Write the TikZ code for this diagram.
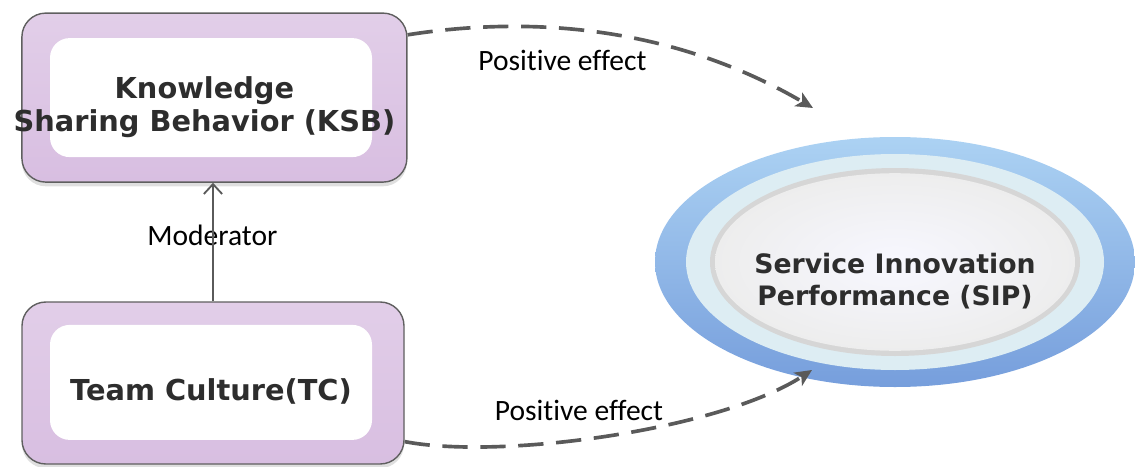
\documentclass[tikz,border=0pt]{standalone}
\usepackage{fontspec}
\setmainfont{Carlito}[Ligatures=NoCommon]
\newfontfamily\boxfont{DejaVu Sans}
\usetikzlibrary{arrows.meta,shadows,shapes.geometric}

\definecolor{boxlilac}{RGB}{216,190,225}
\definecolor{boxline}{RGB}{95,95,95}
\definecolor{sipblue}{RGB}{118,158,220}
\definecolor{sipbluelight}{RGB}{172,210,243}
\definecolor{sipring}{RGB}{221,237,243}
\definecolor{sipgray}{RGB}{214,214,214}
\definecolor{arrowgray}{RGB}{90,90,90}
\definecolor{textgray}{RGB}{45,45,45}

\tikzset{
    outerbox/.style={draw=boxline, line width=1pt, rounded corners=17pt,
        top color=boxlilac!75!white, bottom color=boxlilac, inner sep=0pt,
        drop shadow={shadow xshift=0pt, shadow yshift=-3pt, opacity=0.25}},
    innerbox/.style={fill=white, draw=none, rounded corners=14pt,
        minimum width=8.05cm, inner sep=0pt},
    boxtext/.style={font=\boxfont\bfseries\fontsize{20.5}{23.5}\selectfont,
        text=textgray, align=center},
    lbl/.style={font=\fontsize{21}{25}\selectfont, text=black},
    effect/.style={arrowgray, line width=2.6pt, dash pattern=on 18pt off 9pt,
        -{Stealth[length=12pt,width=11pt,inset=3pt]}},
    modarrow/.style={arrowgray, line width=1.3pt,
        -{Straight Barb[length=7pt,width=13pt]}}
}

\begin{document}
\begin{tikzpicture}
    \useasboundingbox (0,0) rectangle (28.375,11.65);

    %%%%%%%% Box KSB %%%%%%%%
    \node[outerbox, minimum width=9.625cm, minimum height=4.225cm] (ksb) at (5.36,9.21) {};
    \node[innerbox, minimum height=2.975cm] (ksbin) at (5.275,9.21) {};
    \node[boxtext] (ksbt) at (5.11,8.97) {Knowledge\\Sharing Behavior (KSB)};

    %%%%%%%% Box TC %%%%%%%%
    \node[outerbox, minimum width=9.55cm, minimum height=4.05cm] (tc) at (5.325,2.075) {};
    \node[innerbox, minimum height=2.875cm] (tcin) at (5.275,2.09) {};
    \node[boxtext] (tct) at (5.275,1.86) {Team Culture(TC)};

    %%%%%%%% Ellipse SIP %%%%%%%%
    \node[ellipse, minimum width=12cm, minimum height=6.25cm, inner sep=0pt,
        top color=sipbluelight, bottom color=sipblue] (sip) at (22.375,5.1) {};
    \fill[sipring] (sip.center) ellipse (5.225cm and 2.7cm);
    \fill[sipgray] (sip.center) ellipse (4.625cm and 2.35cm);
    \shade[inner color=white!97!blue, outer color=white!93!black] (sip.center) ellipse (4.5cm and 2.22cm);
    \node[boxtext, font=\boxfont\bfseries\fontsize{19}{23}\selectfont] (sipt) at (22.375,4.62) {Service Innovation\\Performance (SIP)};

    %%%%%%%% Connectors %%%%%%%%
    \coordinate (sipin1) at (20.325,8.95);
    \coordinate (sipin2) at (20.3,2.4);
    \node[lbl] (mod) at (5.31,5.77) {Moderator};
    \draw[modarrow] (tc.north) -- (tc.north |- ksb.south);
    \draw[effect] (ksb.18) .. controls (13.5,11.3) and (17.0,10.9) .. (sipin1);
    \draw[effect] (tc.-17.5) .. controls (12.5,0.15) and (18.0,0.9) .. (sipin2);

    %%%%%%%% Captions %%%%%%%%
    \node[lbl] (pos1) at (14.06,10.15) {Positive effect};
    \node[lbl] (pos2) at (14.475,1.38) {Positive effect};
\end{tikzpicture}
\end{document}
